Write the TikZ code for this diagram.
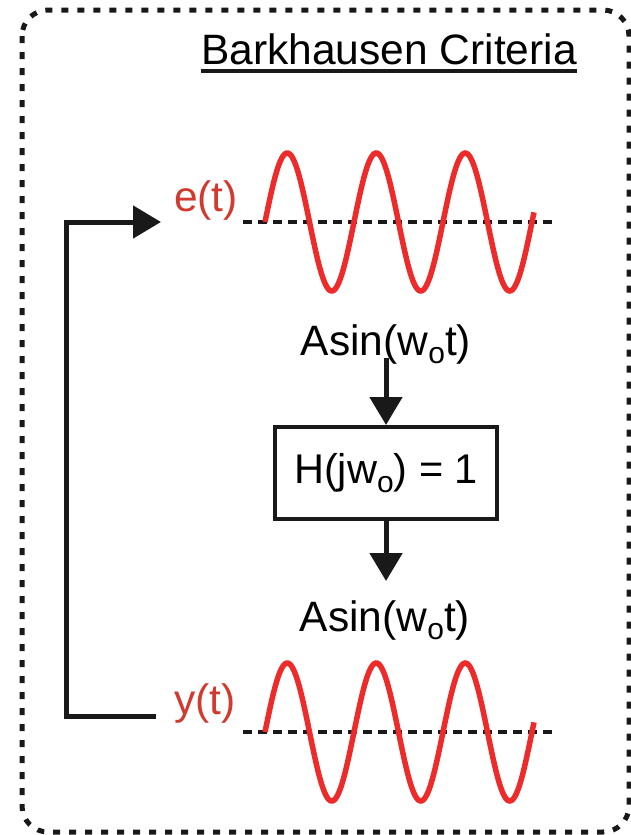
\documentclass[tikz,border=0pt]{standalone}
\usepackage{fontspec}
\setmainfont{Liberation Sans}
\usetikzlibrary{arrows.meta}
\definecolor{wavered}{HTML}{EE2B2B}
\definecolor{labred}{HTML}{D13A2F}
\newcommand\subo{\raisebox{-0.4ex}{\fontsize{30}{30}\selectfont o}}
\begin{document}
\begin{tikzpicture}[x=1pt,y=-1pt,
  txt/.style={font=\fontsize{42.5}{42.5}\selectfont, inner sep=0pt, anchor=base},
  lab/.style={txt, text=labred, anchor=base west},
  wave/.style={draw=wavered, line width=5.5pt, line cap=butt},
  zeroline/.style={draw=black!90, line width=4pt, dash pattern=on 9pt off 6pt},
  frame/.style={draw=black!90, line width=5pt, dash pattern=on 7pt off 9pt, rounded corners=26pt},
  conn/.style={draw=black!90, line width=5pt, line join=miter,
    -{Triangle[length=28pt,width=32pt]}},
  hbox/.style={draw=black!90, line width=4pt, minimum width=222pt, minimum height=92pt,
    inner sep=0pt, font=\fontsize{41.5}{41.5}\selectfont}]
\useasboundingbox (0,0) rectangle (631,835);
\draw[frame] (22,10) rectangle (629,832);

% title
\node[txt] (title) at (389,64) {Barkhausen Criteria};
\draw[line width=3.5pt, draw=black!90] (title.south west |- 0,71) coordinate (ul1) -- (title.south east |- 0,71) coordinate (ul2);

% top wave
\draw[zeroline] (243,222) -- (557,222);
\draw[wave] plot[domain=0:269, samples=200, smooth] ({265+\x},{222-69*sin(\x/89*360)});
\node[lab] (et) at (174,211) {e(t)};

% bottom wave
\draw[zeroline] (243,732) -- (557,732);
\draw[wave] plot[domain=0:269, samples=200, smooth] ({265+\x},{732-69*sin(\x/89*360)});
\node[lab] (yt) at (174,714) {y(t)};

% middle chain
\node[txt] (asin1) at (386,355) {Asin(w\subo t)};
\node[hbox] (box) at (386,473) {H(jw\subo) = 1};
\node[txt] (asin2) at (385,631) {Asin(w\subo t)};
\draw[conn, shorten <=-6pt] (asin1.south -| box.north) -- (box.north);
\draw[conn, shorten >=19pt] (box.south) -- (box.south |- asin2.north);

% feedback
\coordinate (fbstart) at (156,716);
\coordinate (fbcorner) at (66,716);
\coordinate (fbend) at (161,222);
\draw[conn] (fbstart) -- (fbcorner) |- (fbend);
\end{tikzpicture}
\end{document}
